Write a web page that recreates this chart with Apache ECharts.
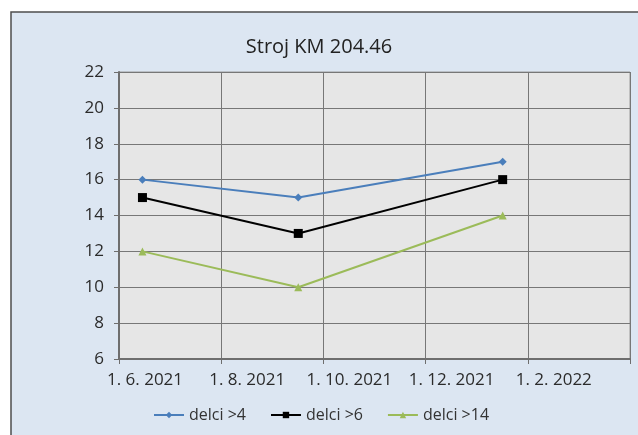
<!DOCTYPE html>
<html>
<head>
<meta charset="utf-8">
<script src="https://cdn.jsdelivr.net/npm/echarts@6/dist/echarts.min.js"></script>
<style>
html, body { margin: 0; padding: 0; background: #ffffff; }
#chart { width: 638px; height: 435px; }
</style>
</head>
<body>
<div id="chart"></div>
<script>
var sampleDates = ['2021-06-15', '2021-09-16', '2022-01-16'];
var delci4 = [16, 15, 17];
var delci6 = [15, 13, 16];
var delci14 = [12, 10, 14];

var seriesNames = ['delci >4', 'delci >6', 'delci >14'];
var xTickLabels = ['1. 6. 2021', '1. 8. 2021', '1. 10. 2021', '1. 12. 2021', '1. 2. 2022', ''];
var yTicks = [6, 8, 10, 12, 14, 16, 18, 20, 22];

// x axis counts days from 1. 6. 2021
var AXIS_START = Date.UTC(2021, 5, 1);
var DAY = 86400000;

function dayOf(s)
{
    var p = s.split('-');
    return (Date.UTC(+p[0], +p[1] - 1, +p[2]) - AXIS_START) / DAY;
}

function pairs(values)
{
    var out = [];
    for (var i = 0; i < values.length; i++) {
        out.push([dayOf(sampleDates[i]), values[i]]);
    }
    return out;
}

var FONT = 'Open Sans';
var chart = echarts.init(document.getElementById('chart'));

var option = {
    backgroundColor: '#ffffff',
    animation: false,
    graphic: [{
        type: 'rect',
        z: -10,
        shape: { x: 11, y: 12, width: 640, height: 440 },
        style: { fill: '#dce6f2', stroke: '#4d4d4d', lineWidth: 1.5 }
    }],
    title: {
        text: 'Stroj KM 204.46',
        left: 'center',
        top: 32,
        textStyle: { fontFamily: FONT, fontSize: 20, fontWeight: 'normal', color: '#222' }
    },
    legend: {
        data: seriesNames,
        left: 148,
        top: 402,
        itemWidth: 30,
        itemHeight: 8,
        itemGap: 24,
        textStyle: { fontFamily: FONT, fontSize: 16, color: '#333' }
    },
    grid: {
        left: 119,
        top: 72,
        right: 8,
        bottom: 76,
        show: true,
        backgroundColor: '#e6e6e6',
        borderColor: '#9a9a9a',
        borderWidth: 1
    },
    xAxis: {
        type: 'value',
        min: 0,
        max: 305,
        interval: 61,
        axisLine: { show: true, lineStyle: { color: '#6e6e6e', width: 2 } },
        axisTick: { show: true, inside: false, length: 5, lineStyle: { color: '#6e6e6e' } },
        splitLine: { show: true, lineStyle: { color: '#777777', width: 1 } },
        axisLabel: {
            margin: 13,
            padding: [0, 0, 0, 52],
            fontFamily: FONT,
            fontSize: 17,
            color: '#2b2b2b',
            showMaxLabel: true,
            formatter: function(v, i) {
                var k = Math.round(v / 61);
                return xTickLabels[k] || '';
            }
        }
    },
    yAxis: {
        type: 'value',
        min: yTicks[0],
        max: yTicks[yTicks.length - 1],
        interval: 2,
        axisLine: { show: true, lineStyle: { color: '#6e6e6e', width: 2 } },
        axisTick: { show: true, inside: false, length: 5, lineStyle: { color: '#6e6e6e' } },
        splitLine: { show: true, lineStyle: { color: '#777777', width: 1 } },
        axisLabel: { margin: 15, fontFamily: FONT, fontSize: 17, color: '#2b2b2b' }
    },
    series: [
        {
            name: seriesNames[0],
            type: 'line',
            data: pairs(delci4),
            symbol: 'diamond',
            symbolSize: 8,
            lineStyle: { color: '#4a7ebb', width: 2 },
            itemStyle: { color: '#4a7ebb' }
        },
        {
            name: seriesNames[1],
            type: 'line',
            data: pairs(delci6),
            symbol: 'rect',
            symbolSize: 9,
            lineStyle: { color: '#000000', width: 2 },
            itemStyle: { color: '#000000' }
        },
        {
            name: seriesNames[2],
            type: 'line',
            data: pairs(delci14),
            symbol: 'triangle',
            symbolSize: 8,
            lineStyle: { color: '#9bbb59', width: 2 },
            itemStyle: { color: '#9bbb59' }
        }
    ]
};
chart.setOption(option);
</script>
</body>
</html>
